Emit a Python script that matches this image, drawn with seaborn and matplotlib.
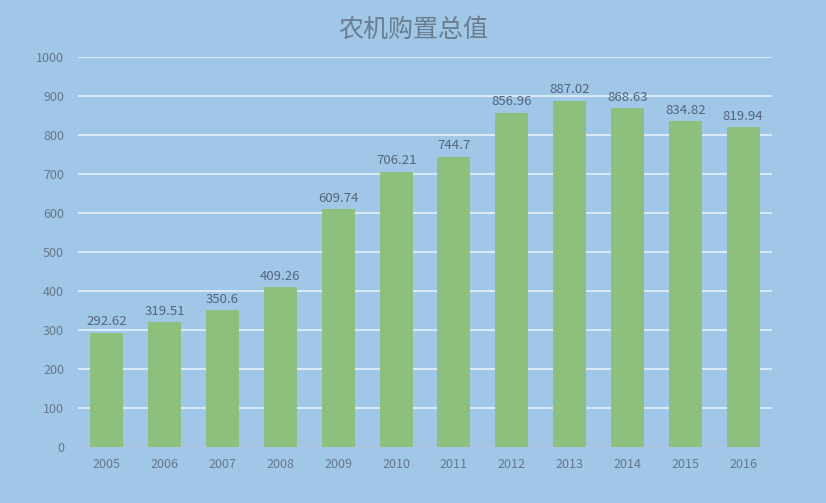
import matplotlib
matplotlib.use("Agg")
import matplotlib.pyplot as plt
import seaborn as sns
import pandas as pd

years = ["2005", "2006", "2007", "2008", "2009", "2010", "2011", "2012", "2013", "2014", "2015", "2016"]
values = [292.62, 319.51, 350.6, 409.26, 609.74, 706.21, 744.7, 856.96, 887.02, 868.63, 834.82, 819.94]
labels = ["292.62", "319.51", "350.6", "409.26", "609.74", "706.21", "744.7", "856.96", "887.02", "868.63", "834.82", "819.94"]
title = "农机购置总值"

sns.set_theme(style="white")
plt.rcParams['font.family'] = ['Noto Sans CJK SC', 'DejaVu Sans']

bg = "#a0c6e8"
df = pd.DataFrame({"year": years, "value": values})

fig = plt.figure(figsize=(8.26, 5.03), dpi=100, facecolor=bg)
ax = fig.add_axes([0.0944, 0.1113, 0.8402, 0.7754])
ax.set_facecolor(bg)

sns.barplot(data=df, x="year", y="value", color="#8cc07c", saturation=1, width=0.57,
            linewidth=0, edgecolor="none", ax=ax, zorder=3)

ax.set_ylim(0, 1000)
ax.set_xlim(-0.5, len(years) - 0.5)
ax.set_yticks(range(0, 1001, 100))
ax.yaxis.grid(True, color="#e4f1fb", linewidth=1.2, zorder=0)
ax.set_axisbelow(True)
for s in ax.spines.values():
    s.set_visible(False)
ax.axhline(0, color="#b8b8d8", linewidth=1.2, zorder=2)

ax.set_xlabel("")
ax.set_ylabel("")
ax.tick_params(axis="both", length=0, colors="#66778a", labelsize=9)
ax.tick_params(axis="x", pad=8)
ax.tick_params(axis="y", pad=10)

for i, (v, t) in enumerate(zip(values, labels)):
    ax.text(i, v + 12, t, ha="center", va="bottom", fontsize=9.5, color="#55657a")

fig.text(0.5, 0.94, title, ha="center", va="center", fontsize=18, color="#6b7c8e")

fig.savefig("out.png", dpi=100, facecolor=bg)
